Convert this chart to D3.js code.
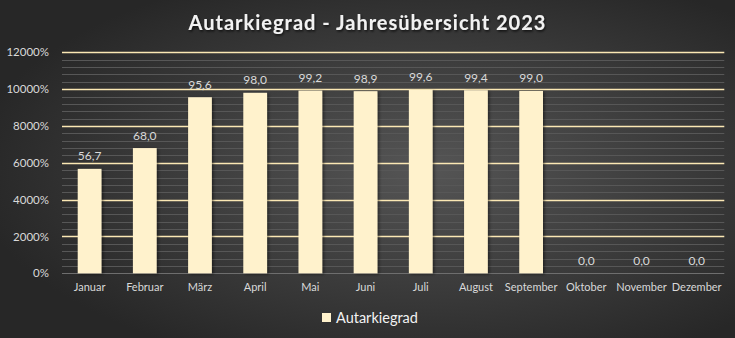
<!DOCTYPE html>
<html>
<head>
<meta charset="utf-8">
<script src="https://cdn.jsdelivr.net/npm/d3@7"></script>
<style>
  html, body { margin: 0; padding: 0; background: #2b2b2b; }
  svg { display: block; }
</style>
</head>
<body>
<svg id="chart" width="735" height="338"></svg>
<script>
const titleText = "Autarkiegrad - Jahresübersicht 2023";
const seriesName = "Autarkiegrad";
const months = ["Januar","Februar","März","April","Mai","Juni","Juli","August","September","Oktober","November","Dezember"];
const values = [56.7, 68.0, 95.6, 98.0, 99.2, 98.9, 99.6, 99.4, 99.0, 0.0, 0.0, 0.0];
const yTicks = [0, 2000, 4000, 6000, 8000, 10000, 12000];
const yMinorStep = 400;

const W = 735, H = 338;
const svg = d3.select("#chart");
const defs = svg.append("defs");

const grad = defs.append("radialGradient").attr("id", "bg")
  .attr("cx", "58%").attr("cy", "50%").attr("r", "62%");
grad.append("stop").attr("offset", "0%").attr("stop-color", "#555555");
grad.append("stop").attr("offset", "100%").attr("stop-color", "#272727");

const shadow = defs.append("filter").attr("id", "barShadow")
  .attr("x", "-30%").attr("y", "-10%").attr("width", "160%").attr("height", "130%");
shadow.append("feDropShadow").attr("dx", 1.5).attr("dy", 1).attr("stdDeviation", 1.5)
  .attr("flood-color", "#000").attr("flood-opacity", 0.5);

const tshadow = defs.append("filter").attr("id", "txtShadow")
  .attr("x", "-10%").attr("y", "-30%").attr("width", "120%").attr("height", "160%");
tshadow.append("feDropShadow").attr("dx", 1).attr("dy", 1.5).attr("stdDeviation", 1.2)
  .attr("flood-color", "#000").attr("flood-opacity", 0.7);

svg.append("rect").attr("width", W).attr("height", H).attr("fill", "url(#bg)");

const font = "Lato, 'Open Sans', sans-serif";
const plot = { left: 62, right: 724.3, top: 52.3, bottom: 273.3 };

const x = d3.scaleBand().domain(months).range([plot.left, plot.right])
  .paddingInner(0.57).paddingOuter(0.285);
const y = d3.scaleLinear().domain([0, 12000]).range([plot.bottom, plot.top]);

// minor gridlines
const minorTicks = d3.range(0, 12000 + 1, yMinorStep).filter(v => v % 2000 !== 0);
svg.append("g").selectAll("line").data(minorTicks).join("line")
  .attr("x1", plot.left).attr("x2", plot.right)
  .attr("y1", d => Math.round(y(d)) + 0.5).attr("y2", d => Math.round(y(d)) + 0.5)
  .attr("stroke", "#575757").attr("stroke-width", 1);

// baseline
svg.append("line").attr("x1", plot.left).attr("x2", plot.right)
  .attr("y1", Math.round(y(0)) + 0.5).attr("y2", Math.round(y(0)) + 0.5)
  .attr("stroke", "#6e6e6e").attr("stroke-width", 1);

// major gridlines
svg.append("g").selectAll("line").data(yTicks.filter(d => d > 0)).join("line")
  .attr("x1", plot.left).attr("x2", plot.right)
  .attr("y1", d => Math.round(y(d)) + 0.5).attr("y2", d => Math.round(y(d)) + 0.5)
  .attr("stroke", "#fbe8b4").attr("stroke-width", 1.3);

// bars
svg.append("g").selectAll("rect").data(months.map((m, i) => ({ m, v: values[i] })))
  .join("rect")
  .attr("x", d => x(d.m)).attr("width", x.bandwidth())
  .attr("y", d => y(d.v * 100)).attr("height", d => y(0) - y(d.v * 100))
  .attr("fill", "#fff2cc").attr("filter", "url(#barShadow)");

// data labels
const fmt = v => d3.format(".1f")(v).replace(".", ",");
svg.append("g").selectAll("text").data(months.map((m, i) => ({ m, v: values[i] })))
  .join("text")
  .attr("x", d => x(d.m) + x.bandwidth() / 2)
  .attr("y", d => y(d.v * 100) - 8.5)
  .attr("text-anchor", "middle")
  .attr("font-family", font).attr("font-size", "12px")
  .attr("fill", "#d9d9d9")
  .text(d => fmt(d.v));

// y axis
const yAxis = svg.append("g").attr("transform", `translate(${plot.left - 13},0)`)
  .call(d3.axisLeft(y).tickValues(yTicks).tickSize(0).tickPadding(0).tickFormat(d => d + "%"));
yAxis.select(".domain").remove();
yAxis.selectAll("text").attr("font-family", font).attr("font-size", "11.5px")
  .attr("fill", "#d9d9d9");

// x axis
const xAxis = svg.append("g").attr("transform", `translate(0,${plot.bottom})`)
  .call(d3.axisBottom(x).tickSize(0).tickPadding(10));
xAxis.select(".domain").remove();
xAxis.selectAll("text").attr("font-family", font).attr("font-size", "11px")
  .attr("fill", "#d9d9d9");

// title
svg.append("text").attr("x", 367.5).attr("y", 30)
  .attr("text-anchor", "middle")
  .attr("font-family", font).attr("font-weight", "bold").attr("font-size", "20px")
  .attr("letter-spacing", "1px")
  .attr("fill", "#f2f2f2").attr("filter", "url(#txtShadow)")
  .text(titleText);

// legend
const lg = svg.append("g");
lg.append("rect").attr("x", 322).attr("y", 313).attr("width", 9).attr("height", 9)
  .attr("fill", "#fff2cc");
lg.append("text").attr("x", 336).attr("y", 323)
  .attr("font-family", font).attr("font-size", "14.5px")
  .attr("fill", "#f2f2f2").text(seriesName);
</script>
</body>
</html>
